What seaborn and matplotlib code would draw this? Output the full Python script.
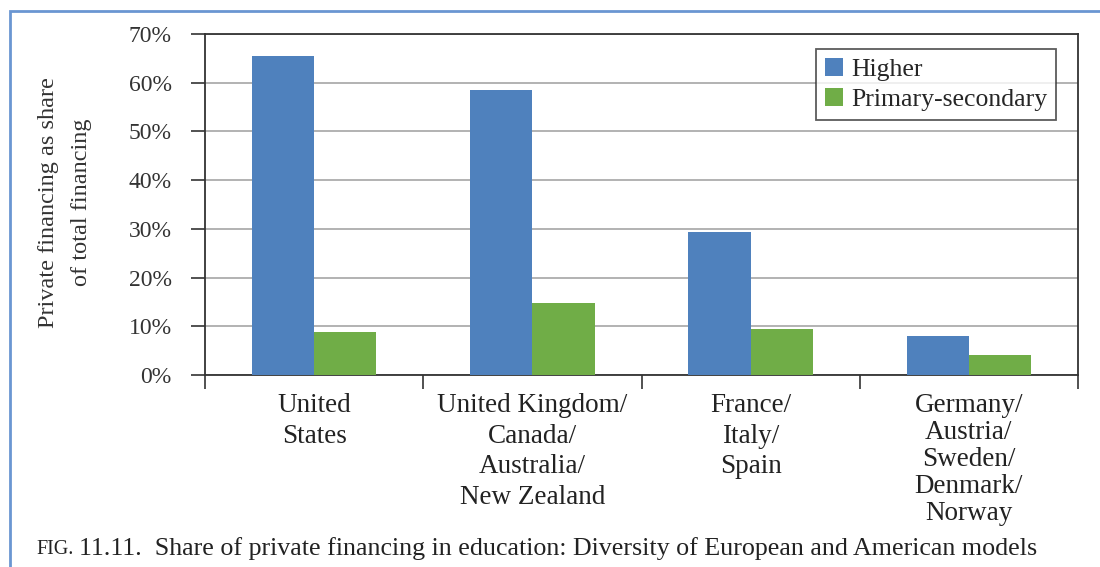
import numpy as np
import pandas as pd
import matplotlib
matplotlib.use("Agg")
import matplotlib.pyplot as plt
from matplotlib.patches import Rectangle
import seaborn as sns

# datos
grupos = ["United\nStates",
          "United Kingdom/\nCanada/\nAustralia/\nNew Zealand",
          "France/\nItaly/\nSpain",
          "Germany/\nAustria/\nSweden/\nDenmark/\nNorway"]
higher = [65.4, 58.6, 29.4, 8.0]
primaria = [8.8, 14.8, 9.5, 4.1]
niveles = ["Higher", "Primary-secondary"]
colores = ["#4F81BD", "#70AD47"]
yticks = [0, 10, 20, 30, 40, 50, 60, 70]

df = pd.DataFrame({
    "grupo": grupos * 2,
    "nivel": [niveles[0]] * 4 + [niveles[1]] * 4,
    "valor": higher + primaria,
})

sns.set_style("white")
plt.rcParams['font.family'] = ['Liberation Serif', 'DejaVu Serif']

fig = plt.figure(figsize=(11, 5.67), dpi=100)
ax = fig.add_axes([0.1864, 0.3386, 0.7936, 0.6014])

sns.barplot(data=df, x="grupo", y="valor", hue="nivel", palette=colores,
            width=0.57, gap=0, saturation=1, linewidth=0, ax=ax, zorder=3)

ax.set_ylim(0, 70)
ax.set_xlim(-0.5, 3.5)
ax.set_yticks(yticks)
ax.set_yticklabels([f"{v}%" for v in yticks], fontsize=17, color="#333333")
ax.yaxis.grid(True, color="#A6A6A6", lw=1.2, zorder=0)
ax.tick_params(axis="y", left=True, length=10, width=1.2, color="#333333",
               direction="out", pad=14)

# marcas del eje x en los limites de cada grupo
ax.set_xticks(np.arange(-0.5, 4, 1), minor=True)
ax.tick_params(axis="x", which="minor", bottom=True, length=10, width=1.2,
               color="#333333", direction="out")
ax.tick_params(axis="x", which="major", bottom=False, length=0, pad=13)
ax.set_xticklabels(grupos, fontsize=19.5, color="#222222", linespacing=1.3, va="top")
ax.get_xticklabels()[3].set_linespacing(1.1)
ax.set_xlabel("")
ax.set_ylabel("Private financing as share\nof total financing", fontsize=17.5,
              color="#333333", linespacing=1.75)
ax.yaxis.set_label_coords(-0.129, 0.506)

for s in ax.spines.values():
    s.set_color("#333333")
    s.set_linewidth(1.3)

leg = ax.legend(loc="upper right", bbox_to_anchor=(0.975, 0.955), borderaxespad=0,
                fontsize=18.5, frameon=True, fancybox=False, handlelength=0.7,
                handleheight=0.7, handletextpad=0.3, borderpad=0.35, labelspacing=0.25)
leg.get_frame().set_edgecolor("#333333")
leg.get_frame().set_linewidth(1.3)

# recuadro azul y pie de figura
fig.add_artist(Rectangle((10 / 1100, -0.1), 1.2, 1.1 - 11 / 567, transform=fig.transFigure,
                         fill=False, ec="#6A96D2", lw=2))
fig.text(36 / 1100, 1 - 549 / 567, "FIG.", fontsize=14.5, va="center",
         ha="left", color="#222222")
fig.text(79 / 1100, 1 - 549 / 567, "11.11.  Share of private financing in education: "
         "Diversity of European and American models", fontsize=18.7, va="center",
         ha="left", color="#222222")

fig.savefig("out.png", dpi=100)
